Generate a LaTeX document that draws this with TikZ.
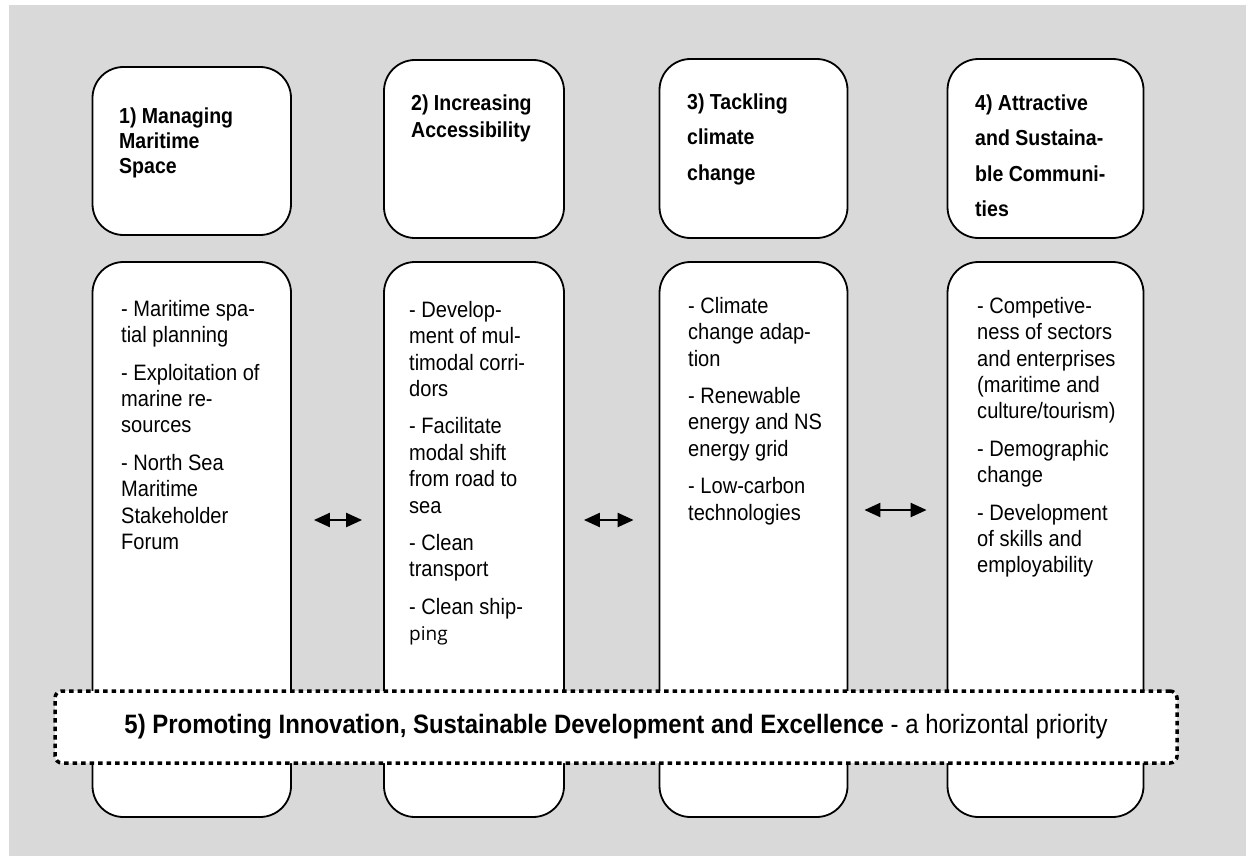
\documentclass[tikz,border=0pt]{standalone}
\usepackage{fontspec}
\setmainfont{Liberation Sans}[FakeStretch=0.9]
\newfontfamily\pingfont{Open Sans}
\usetikzlibrary{arrows.meta}
\definecolor{bggray}{RGB}{217,217,217}
\newcommand\capline{\rule{0pt}{17pt}}

\begin{document}
\begin{tikzpicture}[x=1pt, y=-1pt,
    colbox/.style={draw, line width=1.8pt, fill=white, rounded corners=31pt, inner sep=0pt},
    headtxt/.style={anchor=north west, inner sep=0pt, align=left, font=\fontsize{21.7}{25}\selectfont\bfseries},
    itemtxt/.style={anchor=north west, inner sep=0pt, align=left, font=\fontsize{22.3}{26.4}\selectfont},
    twoway/.style={line width=2.2pt, {Triangle[length=16pt,width=14pt]}-{Triangle[length=16pt,width=14pt]}},
    banner/.style={draw, line width=3.5pt, dash pattern=on 4.5pt off 4pt, fill=white, rounded corners=7pt,
      inner sep=0pt, font=\fontsize{26.6}{30}\selectfont}]
  \def\gap{11pt}
  \useasboundingbox (0,0) rectangle (1246,856);
  \fill[bggray] (9,5) rectangle (1246,856);

  \foreach \n/\xa/\xb/\ya/\yb in {1/92.5/291/67/235, 2/384/564/60/238, 3/659.5/847.5/59/238, 4/947.5/1143.5/59/238} {
    \node[colbox, minimum width={(\xb-\xa)*1pt}, minimum height=555pt] (b\n) at ({(\xa+\xb)/2}, 539.5) {};
    \node[colbox, minimum width={(\xb-\xa)*1pt}, minimum height={(\yb-\ya)*1pt}] (t\n) at ({(\xa+\xb)/2}, {(\ya+\yb)/2}) {};
  }

  % first baseline = y + 17
  \node[headtxt] (h1) at (119,106) {\capline 1) Managing\\Maritime\\Space};
  \node[headtxt, font=\fontsize{21.7}{27}\selectfont\bfseries] (h2) at (411,93) {\capline 2) Increasing\\Accessibility};
  \node[headtxt, font=\fontsize{21.7}{35.5}\selectfont\bfseries] (h3) at (687,92) {\capline 3) Tackling\\climate\\change};
  \node[headtxt, font=\fontsize{21.7}{35.5}\selectfont\bfseries] (h4) at (975,93) {\capline 4) Attractive\\and Sustaina-\\ble Communi-\\ties};

  \node[itemtxt] (i1) at (121,299) {\capline - Maritime spa-\\tial planning\\[\gap]- Exploitation of\\marine re-\\sources\\[\gap]- North Sea\\Maritime\\Stakeholder\\Forum};
  \node[itemtxt] (i2) at (409,300) {\capline - Develop-\\ment of mul-\\timodal corri-\\dors\\[\gap]- Facilitate\\modal shift\\from road to\\sea\\[\gap]- Clean\\transport\\[\gap]- Clean ship-\\{\pingfont\fontsize{19}{26}\selectfont ping}};
  \node[itemtxt] (i3) at (688,296) {\capline - Climate\\change adap-\\tion\\[\gap]- Renewable\\energy and NS\\energy grid\\[\gap]- Low-carbon\\technologies};
  \node[itemtxt] (i4) at (977,296) {\capline - Competive-\\ness of sectors\\and enterprises\\(maritime and\\culture/tourism)\\[\gap]- Demographic\\change\\[\gap]- Development\\of skills and\\employability};

  \draw[twoway, shorten <=22pt, shorten >=21pt] (b1.east |- 0,520) -- (b2.west |- 0,520);
  \draw[twoway, shorten <=19pt, shorten >=25pt] (b2.east |- 0,520) -- (b3.west |- 0,520);
  \draw[twoway, shorten <=16pt, shorten >=20pt] (b3.east |- 0,510) -- (b4.west |- 0,510);

  \node[banner, minimum width=1122pt, minimum height=72pt] (prio) at (616,727)
    {\textbf{5) Promoting Innovation, Sustainable Development and Excellence} - a horizontal priority};
\end{tikzpicture}
\end{document}
